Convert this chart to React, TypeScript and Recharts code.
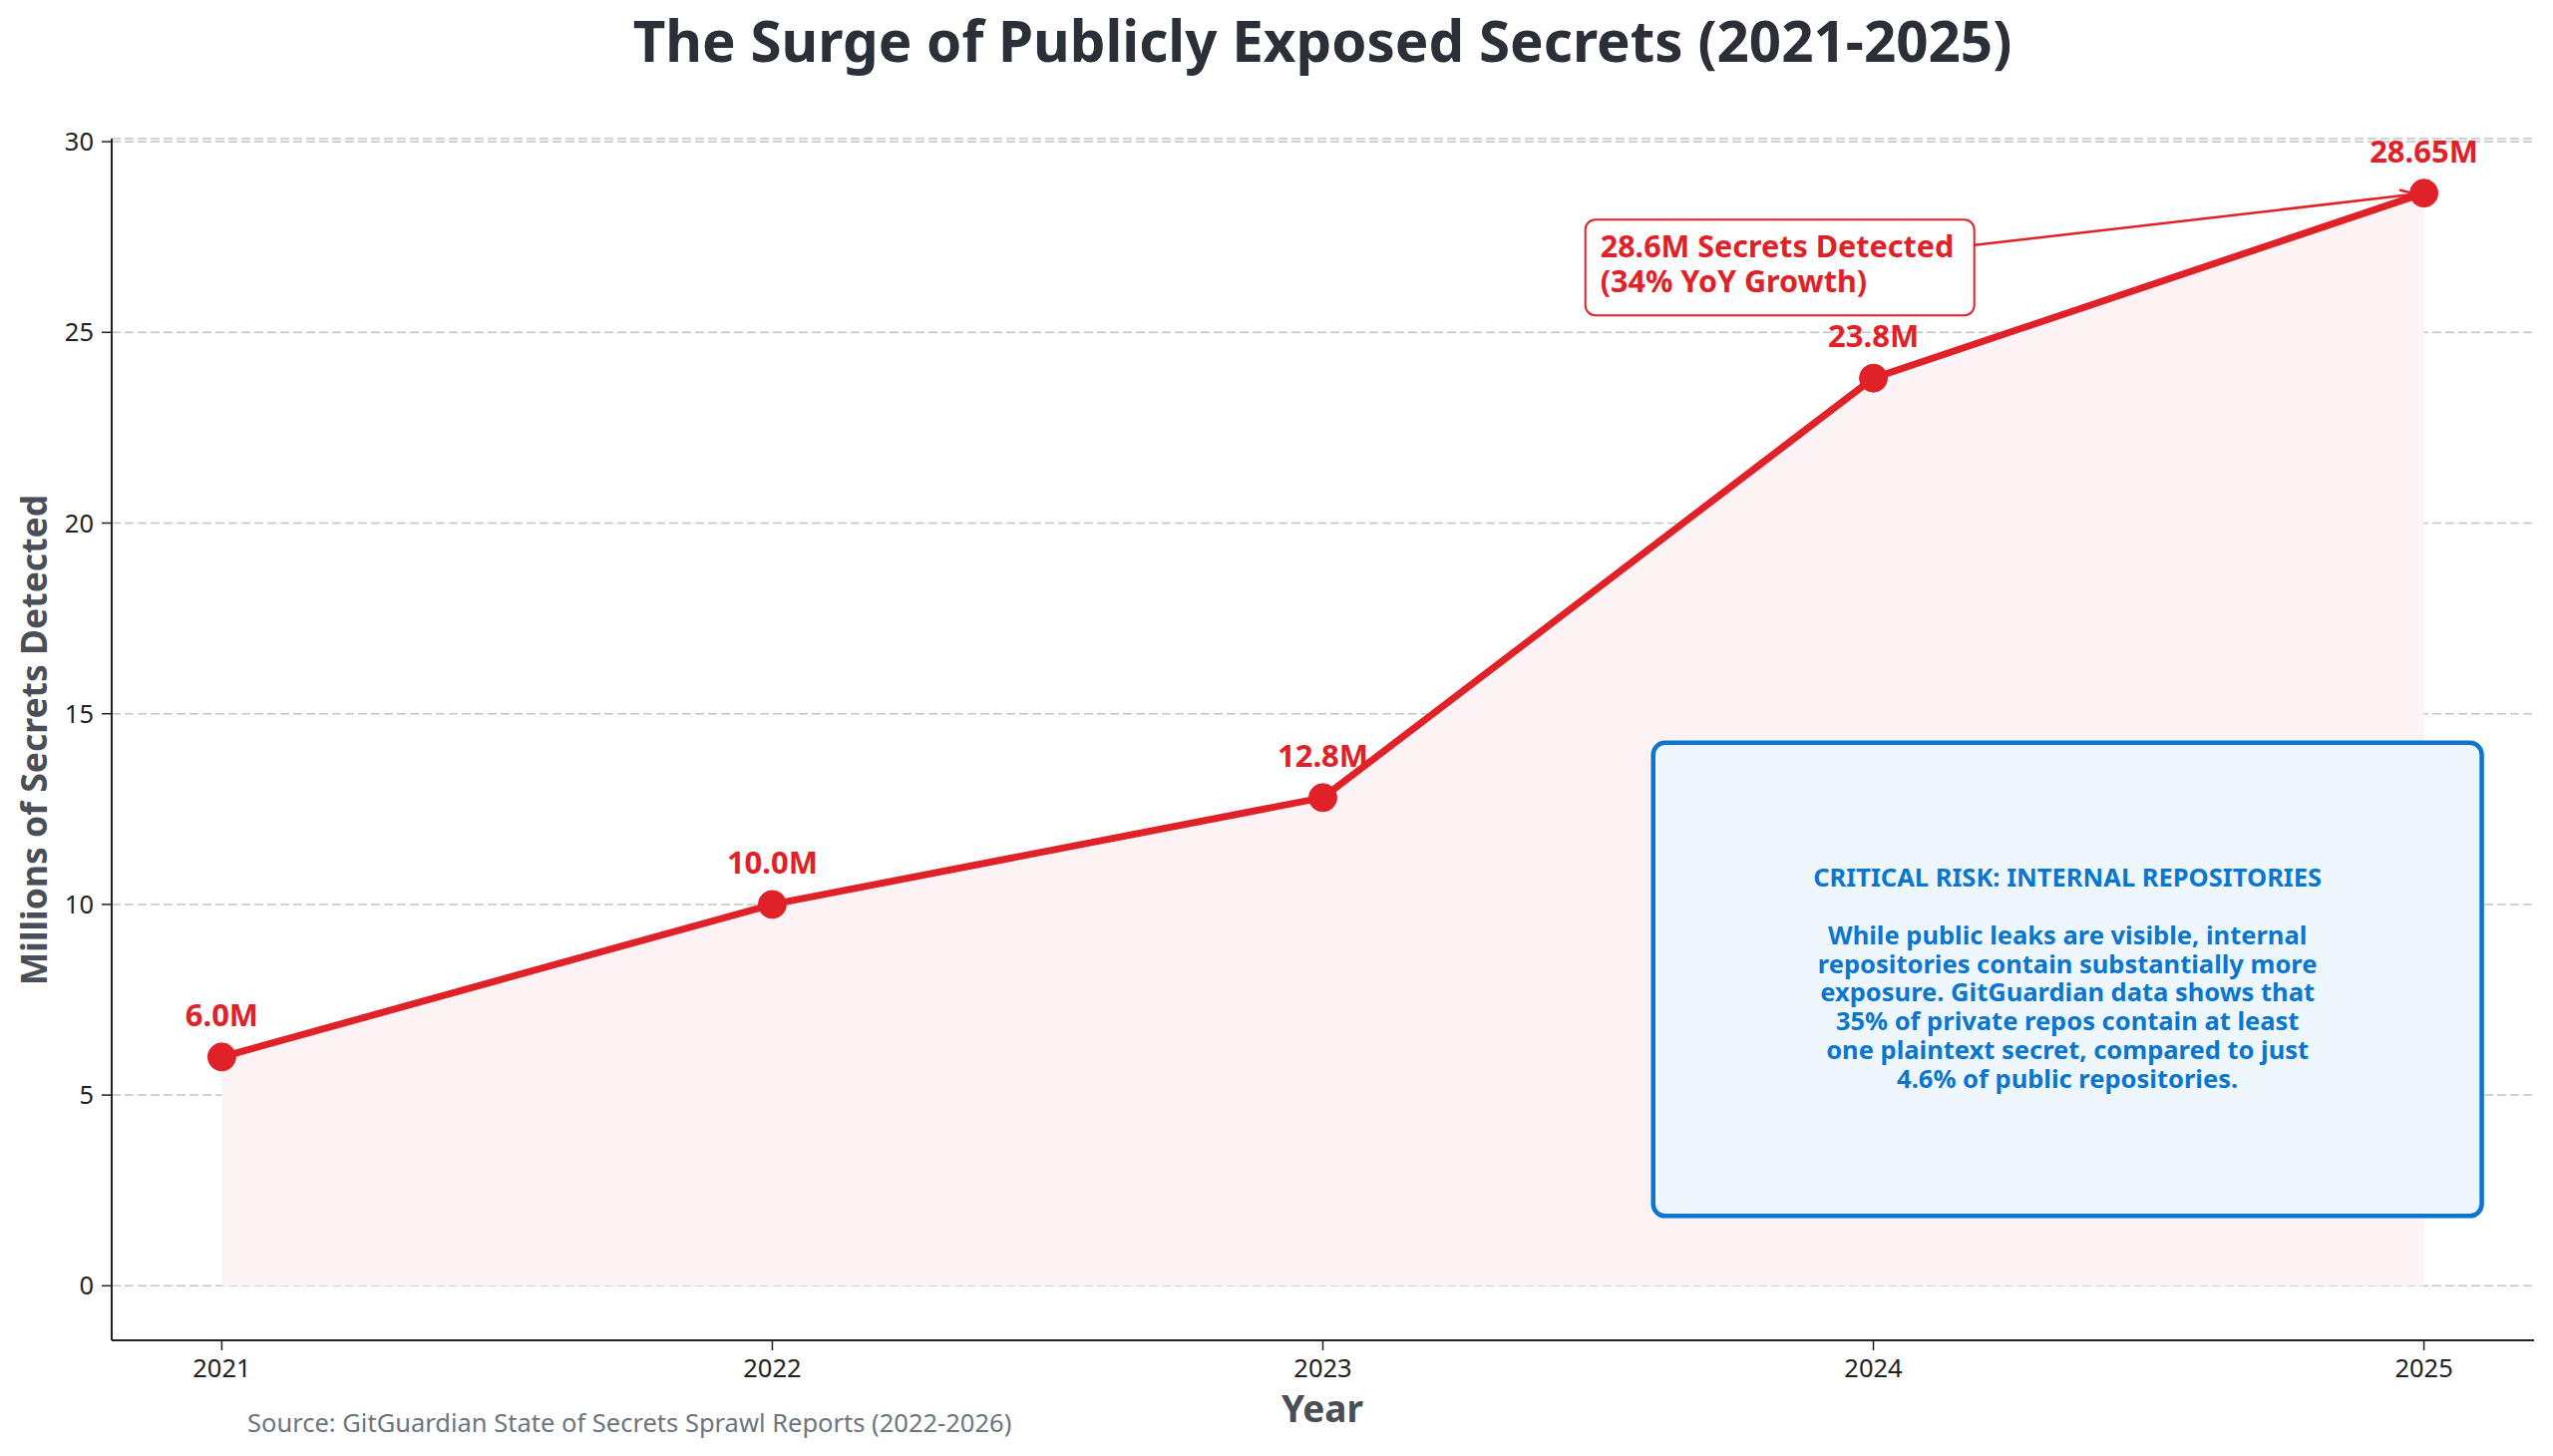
import React from 'react';
import {
    ComposedChart, XAxis, YAxis, CartesianGrid, Line, Area, LabelList,
    ReferenceLine, ReferenceArea,
} from 'recharts';

const years = [2021, 2022, 2023, 2024, 2025];
const secrets = [6.0, 10.0, 12.8, 23.8, 28.65];
const pointLabels = ['6.0M', '10.0M', '12.8M', '23.8M', '28.65M'];
const yTicks = [0, 5, 10, 15, 20, 25, 30];

const calloutLines = ['28.6M Secrets Detected', '(34% YoY Growth)'];
const calloutFrom = { x: 2023.83, y: 26.7 };
const calloutTo = { x: 2025, y: 28.65 };

const riskBox = { x1: 2023.6, x2: 2025.105, y1: 1.83, y2: 14.24 };
const riskLines = [
    'CRITICAL RISK: INTERNAL REPOSITORIES',
    '',
    'While public leaks are visible, internal',
    'repositories contain substantially more',
    'exposure. GitGuardian data shows that',
    '35% of private repos contain at least',
    'one plaintext secret, compared to just',
    '4.6% of public repositories.',
];

const data = years.map((year, i) => ({ year, value: secrets[i], label: pointLabels[i] }));

const RED = '#e02228';
const BLUE = '#0a76d0';
const FONT = '"Noto Sans", sans-serif';

const PointLabel = (props: any) => {
    const { x, y, index } = props;
    return (
        <text x={x} y={y - 31} textAnchor="middle" fill={RED} fontSize={31} fontWeight={700} fontFamily={FONT}>
            {pointLabels[index]}
        </text>
    );
};

const Callout = (props: any) => {
    const { x1, y1, x2, y2 } = props;
    const w = 390;
    const h = 96;
    const dx = x2 - x1;
    const dy = y2 - y1;
    const len = Math.sqrt(dx * dx + dy * dy);
    const ux = dx / len;
    const uy = dy / len;
    // line leaves the box edge
    const t = (w / 2) / Math.abs(ux);
    const sx = x1 + ux * t;
    const sy = y1 + uy * t;
    const ex = x2 - ux * 8;
    const ey = y2 - uy * 8;
    const hx = ex - ux * 16;
    const hy = ey - uy * 16;
    return (
        <g>
            <line x1={sx} y1={sy} x2={ex} y2={ey} stroke={RED} strokeWidth={2.5} />
            <polyline
                points={`${hx - uy * 6},${hy + ux * 6} ${ex},${ey} ${hx + uy * 6},${hy - ux * 6}`}
                fill="none" stroke={RED} strokeWidth={2.5}
            />
            <rect x={x1 - w / 2} y={y1 - h / 2} width={w} height={h} rx={10} fill="#ffffff" stroke={RED} strokeWidth={2} />
            {calloutLines.map((s, i) => (
                <text key={i} x={x1 - w / 2 + 15} y={y1 - 10 + i * 35} fill={RED} fontSize={30.5} fontWeight={700} fontFamily={FONT}>
                    {s}
                </text>
            ))}
        </g>
    );
};

const RiskBox = (props: any) => {
    const { x, y, width, height } = props;
    const cx = x + width / 2;
    const cy = y + height / 2;
    const lh = 28.8;
    const first = cy - ((riskLines.length - 1) * lh) / 2 + 8;
    return (
        <g>
            <rect x={x} y={y} width={width} height={height} rx={12} fill="#eff7fe" stroke={BLUE} strokeWidth={4.5} />
            {riskLines.map((s, i) => (
                <text key={i} x={cx} y={first + i * lh} textAnchor="middle" fill={BLUE} fontSize={25.5} fontWeight={700} fontFamily={FONT}>
                    {s}
                </text>
            ))}
        </g>
    );
};

const App: React.FC = () => {
    return (
        <div style={{ position: 'absolute', left: 0, top: 0, width: 2560, height: 1460, background: '#fff' }}>
            <ComposedChart
                width={2560}
                height={1460}
                data={data}
                margin={{ top: 139, right: 19, bottom: 0, left: 32 }}
                style={{ fontFamily: FONT }}
            >
                <text x={1326} y={62} textAnchor="middle" fill="#2b3038" fontSize={56.5} fontWeight={700} fontFamily={FONT}>
                    The Surge of Publicly Exposed Secrets (2021-2025)
                </text>
                <text x={248} y={1436} fill="#6c757d" fontSize={25.5} fontFamily={FONT}>
                    Source: GitGuardian State of Secrets Sprawl Reports (2022-2026)
                </text>
                <CartesianGrid vertical={false} stroke="#c4c4c4" strokeWidth={1.5} strokeDasharray="9 4" />
                <XAxis
                    dataKey="year"
                    type="number"
                    domain={[2020.8, 2025.2]}
                    ticks={years}
                    allowDataOverflow
                    height={116}
                    tickSize={10}
                    tickMargin={9}
                    axisLine={{ stroke: '#222', strokeWidth: 2 }}
                    tickLine={{ stroke: '#222', strokeWidth: 1.5 }}
                    tick={{ fill: '#222', fontSize: 25.5, fontFamily: FONT }}
                    label={{
                        content: () => (
                            <text x={1326} y={1426} textAnchor="middle" fill="#4a4f57" fontSize={37} fontWeight={700} fontFamily={FONT}>
                                Year
                            </text>
                        ),
                    }}
                />
                <YAxis
                    type="number"
                    domain={[-1.43, 30.08]}
                    ticks={yTicks}
                    allowDataOverflow
                    width={80}
                    tickSize={10}
                    tickMargin={8}
                    axisLine={{ stroke: '#222', strokeWidth: 2 }}
                    tickLine={{ stroke: '#222', strokeWidth: 1.5 }}
                    tick={{ fill: '#222', fontSize: 25.5, fontFamily: FONT }}
                    label={{
                        content: () => (
                            <text
                                x={47}
                                y={742}
                                transform="rotate(-90 47 742)"
                                textAnchor="middle"
                                fill="#4a4f57"
                                fontSize={35.5}
                                fontWeight={700}
                                fontFamily={FONT}
                            >
                                Millions of Secrets Detected
                            </text>
                        ),
                    }}
                />
                <Area
                    dataKey="value"
                    type="linear"
                    baseValue={0}
                    stroke="none"
                    fill="#fdf3f4"
                    fillOpacity={1}
                    isAnimationActive={false}
                />
                <ReferenceArea
                    x1={riskBox.x1}
                    x2={riskBox.x2}
                    y1={riskBox.y1}
                    y2={riskBox.y2}
                    shape={(p: any) => <RiskBox {...p} />}
                />
                <Line
                    dataKey="value"
                    type="linear"
                    stroke={RED}
                    strokeWidth={7}
                    dot={{ r: 14, fill: RED, stroke: RED, strokeWidth: 1 }}
                    activeDot={false}
                    isAnimationActive={false}
                >
                    <LabelList dataKey="label" content={<PointLabel />} />
                </Line>
                <ReferenceLine
                    segment={[calloutFrom, calloutTo]}
                    shape={(p: any) => <Callout {...p} />}
                />
            </ComposedChart>
        </div>
    );
};

export default App;
